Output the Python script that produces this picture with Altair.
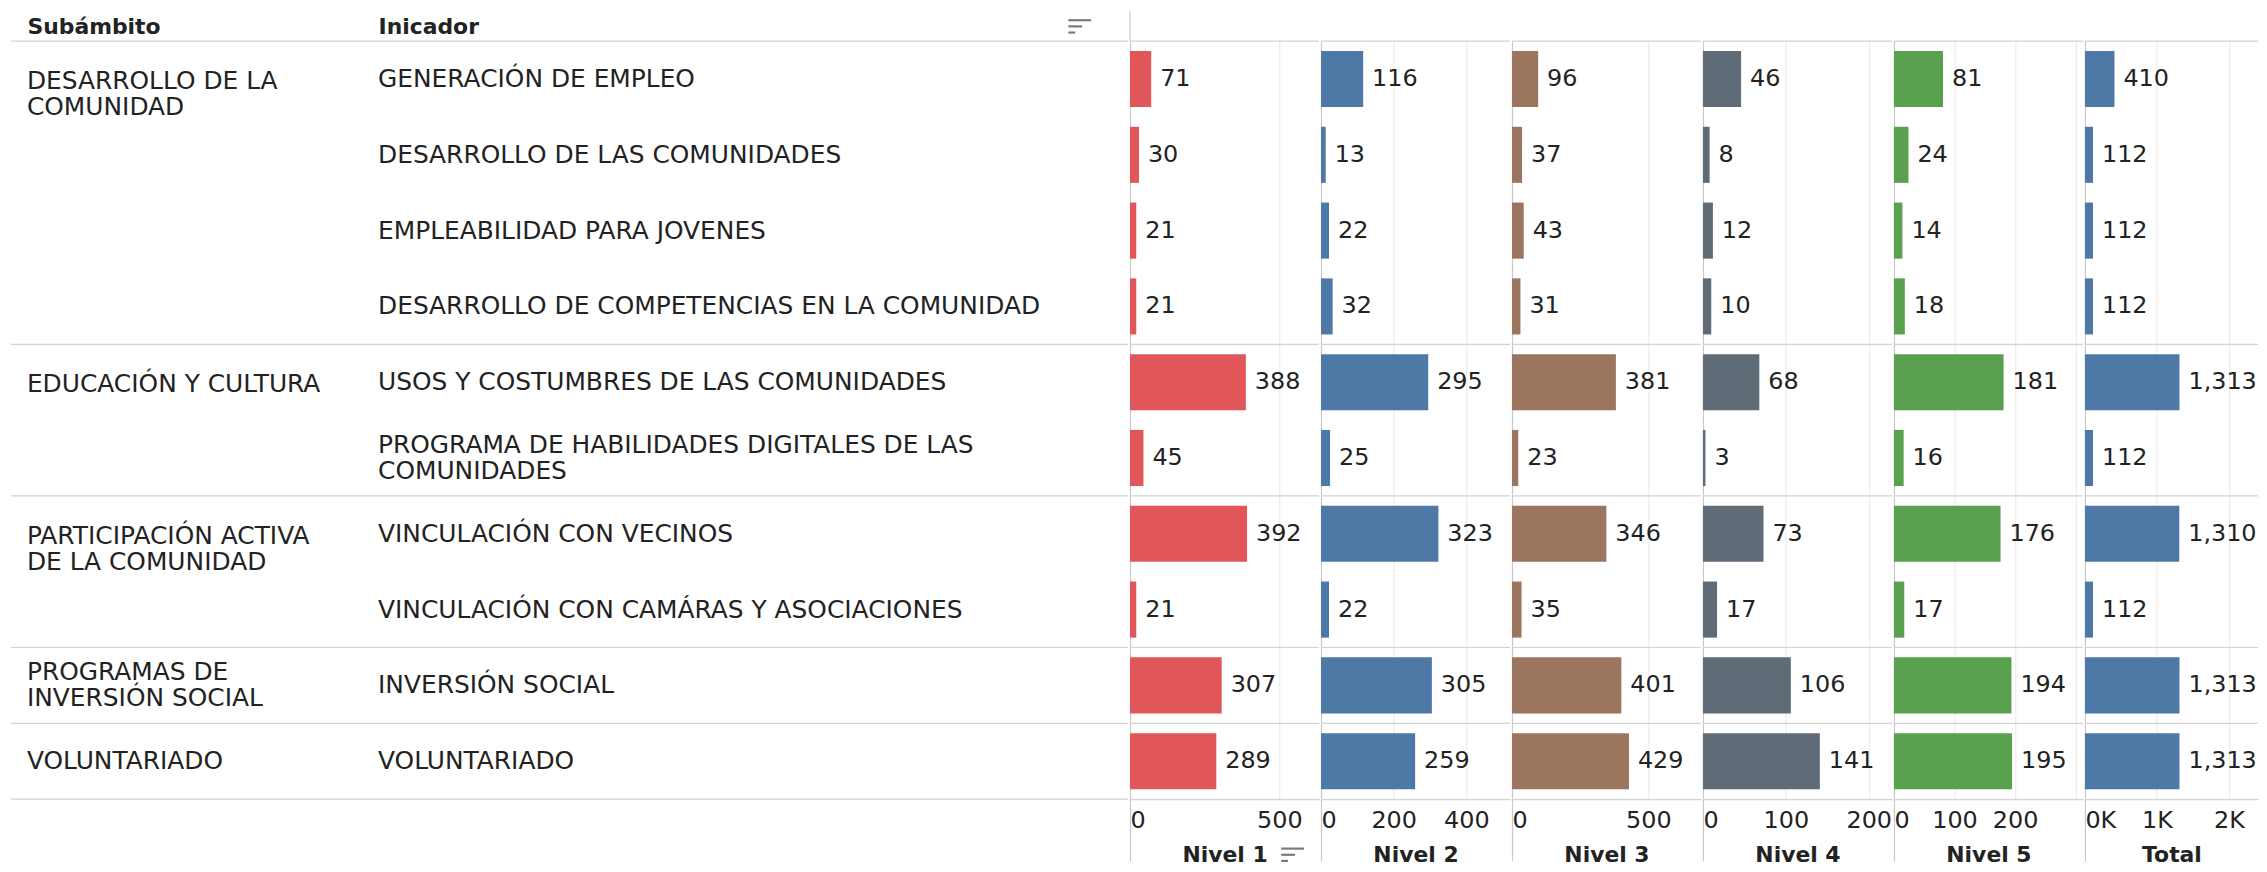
import altair as alt
import pandas as pd

# ---------------- data ----------------
subambito_per_row = [
    "DESARROLLO DE LA COMUNIDAD", "DESARROLLO DE LA COMUNIDAD",
    "DESARROLLO DE LA COMUNIDAD", "DESARROLLO DE LA COMUNIDAD",
    "EDUCACIÓN Y CULTURA", "EDUCACIÓN Y CULTURA",
    "PARTICIPACIÓN ACTIVA DE LA COMUNIDAD", "PARTICIPACIÓN ACTIVA DE LA COMUNIDAD",
    "PROGRAMAS DE INVERSIÓN SOCIAL",
    "VOLUNTARIADO",
]
subambito_names = [
    "DESARROLLO DE LA COMUNIDAD", "EDUCACIÓN Y CULTURA",
    "PARTICIPACIÓN ACTIVA DE LA COMUNIDAD", "PROGRAMAS DE INVERSIÓN SOCIAL",
    "VOLUNTARIADO",
]
subambito_display = [
    "DESARROLLO DE LA\nCOMUNIDAD", "EDUCACIÓN Y CULTURA",
    "PARTICIPACIÓN ACTIVA\nDE LA COMUNIDAD", "PROGRAMAS DE\nINVERSIÓN SOCIAL",
    "VOLUNTARIADO",
]
indicadores = [
    "GENERACIÓN DE EMPLEO",
    "DESARROLLO DE LAS COMUNIDADES",
    "EMPLEABILIDAD PARA JOVENES",
    "DESARROLLO DE COMPETENCIAS EN LA COMUNIDAD",
    "USOS Y COSTUMBRES DE LAS COMUNIDADES",
    "PROGRAMA DE HABILIDADES DIGITALES DE LAS COMUNIDADES",
    "VINCULACIÓN CON VECINOS",
    "VINCULACIÓN CON CAMÁRAS Y ASOCIACIONES",
    "INVERSIÓN SOCIAL",
    "VOLUNTARIADO",
]
indicador_display = [
    "GENERACIÓN DE EMPLEO",
    "DESARROLLO DE LAS COMUNIDADES",
    "EMPLEABILIDAD PARA JOVENES",
    "DESARROLLO DE COMPETENCIAS EN LA COMUNIDAD",
    "USOS Y COSTUMBRES DE LAS COMUNIDADES",
    "PROGRAMA DE HABILIDADES DIGITALES DE LAS\nCOMUNIDADES",
    "VINCULACIÓN CON VECINOS",
    "VINCULACIÓN CON CAMÁRAS Y ASOCIACIONES",
    "INVERSIÓN SOCIAL",
    "VOLUNTARIADO",
]
nivel1 = [71, 30, 21, 21, 388, 45, 392, 21, 307, 289]
nivel2 = [116, 13, 22, 32, 295, 25, 323, 22, 305, 259]
nivel3 = [96, 37, 43, 31, 381, 23, 346, 35, 401, 429]
nivel4 = [46, 8, 12, 10, 68, 3, 73, 17, 106, 141]
nivel5 = [81, 24, 14, 18, 181, 16, 176, 17, 194, 195]
total = [410, 112, 112, 112, 1313, 112, 1310, 112, 1313, 1313]

column_headers = ["Subámbito", "Inicador"]
panel_titles = ["Nivel 1", "Nivel 2", "Nivel 3", "Nivel 4", "Nivel 5", "Total"]
panel_colors = ["#E15759", "#4E79A7", "#9C755F", "#5F6B76", "#59A14F", "#4E79A7"]
panel_ticks = [[0, 500], [0, 200, 400], [0, 500], [0, 100, 200], [0, 100, 200, 300], [0, 1000, 2000]]
panel_domain_max = [633, 520, 693, 228, 312, 2403]
panel_widths = [190, 190, 190, 190, 190, 174]

# ---------------- tables ----------------
df = pd.DataFrame({
    "Subambito": subambito_per_row,
    "Indicador": indicadores,
    "ind_label": indicador_display,
    "Nivel 1": nivel1, "Nivel 2": nivel2, "Nivel 3": nivel3,
    "Nivel 4": nivel4, "Nivel 5": nivel5, "Total": total,
})
df["nlines"] = [s.count("\n") + 1 for s in indicador_display]
first_rows = []
for name, disp in zip(subambito_names, subambito_display):
    rows = [ind for ind, s in zip(indicadores, subambito_per_row) if s == name]
    first_rows.append({"Indicador": rows[0], "sub_label": disp, "n_rows": len(rows),
                       "nlines": disp.count("\n") + 1})
sub_df = pd.DataFrame(first_rows)
last_df = pd.DataFrame({"Indicador": [indicadores[-1]]})
# sort-icon strokes (relative lengths of the three strokes)
icon_df = pd.DataFrame({"bar": [0, 1, 2], "frac": [1.0, 0.6, 0.3]})

# ---------------- style ----------------
FONT = "DejaVu Sans"
TXT = "#222222"
BORDER = "#C9C9C9"
LINE = "#D2D2D2"
GRID = "#ECECEC"
ICON = "#7A7A7A"
FS = 24
FS_TBL = 25
LH = 26
ROWS_H = 762
HEAD_EXT = 30      # pane border above the rows (header row height)
TICK_EXT = 62      # pane border below the rows (footer)
TITLE_Y = 56

yscale = alt.Scale(domain=indicadores, paddingInner=0, paddingOuter=0)


def ypos(**kw):
    return alt.Y("Indicador:N", scale=yscale, axis=None, **kw)


def group_rules(extra_bottom=False):
    r = alt.Chart(sub_df).mark_rule(color=LINE, strokeWidth=1.2).encode(
        y=ypos(bandPosition=0))
    if extra_bottom:
        r = r + alt.Chart(last_df).mark_rule(color=LINE, strokeWidth=1.2).encode(
            y=ypos(bandPosition=1))
    return r


def sort_icon(x0, y0):
    """Small three-stroke sort glyph (decoration)."""
    layers = []
    for b, f in zip(icon_df["bar"], icon_df["frac"]):
        layers.append(
            alt.Chart(icon_df[icon_df["bar"] == b]).mark_rule(
                color=ICON, strokeWidth=2.2).encode(
                x=alt.value(x0), x2=alt.value(x0 + 23 * f), y=alt.value(y0 + 6.2 * b)))
    return layers


# ---------------- left table ----------------
tbl_x_scale = alt.Scale(type="point", domain=column_headers, range=[16, 369], padding=0)
tbl_axis = alt.Axis(orient="top", title=None, ticks=False, domain=False, grid=False,
                    labelAlign="left", labelBaseline="middle", labelPadding=15,
                    labelAngle=0, labelFont=FONT, labelFontSize=22,
                    labelFontWeight="bold", labelColor=TXT)


def txt(**kw):
    base = dict(align="left", font=FONT, fontSize=FS_TBL, color=TXT, lineBreak="\n", lineHeight=LH)
    base.update(kw)
    return base


ind_one = alt.Chart(df).transform_filter("datum.nlines == 1").transform_calculate(
    col="'Inicador'").mark_text(**txt(baseline="middle")).encode(
    x=alt.X("col:N", scale=tbl_x_scale, axis=tbl_axis), y=ypos(), text="ind_label:N")
ind_two = alt.Chart(df).transform_filter("datum.nlines == 2").transform_calculate(
    col="'Inicador'").mark_text(**txt(baseline="middle", dy=-LH / 2)).encode(
    x=alt.X("col:N", scale=tbl_x_scale), y=ypos(), text="ind_label:N")

sub_multi = alt.Chart(sub_df).transform_filter("datum.n_rows > 1").transform_calculate(
    col="'Subámbito'").mark_text(**txt(baseline="top", dy=-10)).encode(
    x=alt.X("col:N", scale=tbl_x_scale), y=ypos(), text="sub_label:N")
sub_single1 = alt.Chart(sub_df).transform_filter(
    "datum.n_rows == 1 && datum.nlines == 1").transform_calculate(
    col="'Subámbito'").mark_text(**txt(baseline="middle")).encode(
    x=alt.X("col:N", scale=tbl_x_scale), y=ypos(), text="sub_label:N")
sub_single2 = alt.Chart(sub_df).transform_filter(
    "datum.n_rows == 1 && datum.nlines == 2").transform_calculate(
    col="'Subámbito'").mark_text(**txt(baseline="middle", dy=-LH / 2)).encode(
    x=alt.X("col:N", scale=tbl_x_scale), y=ypos(), text="sub_label:N")

TABLE_W = 1123
table = alt.layer(group_rules(extra_bottom=True), ind_one, ind_two,
                  sub_multi, sub_single1, sub_single2,
                  *sort_icon(TABLE_W - 60, -21)).properties(width=TABLE_W, height=ROWS_H)


# ---------------- bar panels ----------------
def panel(i):
    field = panel_titles[i]
    xscale = alt.Scale(domain=[0, panel_domain_max[i]], nice=False, zero=True)
    label_expr = "datum.label"
    if field == "Nivel 5":
        label_expr = "datum.value == 300 ? '' : datum.label"
    if field == "Total":
        label_expr = "format(datum.value / 1000, 'd') + 'K'"
    axis = alt.Axis(
        values=panel_ticks[i], title=field, grid=True,
        gridColor={"condition": {"test": "datum.value === 0", "value": BORDER}, "value": GRID},
        gridWidth=1.2,
        ticks=True, tickSize=TICK_EXT, tickColor=BORDER, tickWidth=1.2,
        tickOpacity={"condition": {"test": "datum.value === 0", "value": 1}, "value": 0},
        labelPadding=10 - TICK_EXT, labelFlush=True, labelExpr=label_expr,
        labelFont=FONT, labelFontSize=FS, labelColor=TXT,
        domain=True, domainColor=LINE, domainWidth=1.2,
        titleFont=FONT, titleFontSize=22, titleFontWeight="bold", titleColor=TXT,
        titleY=TITLE_Y, titleBaseline="middle",
    )
    bars = alt.Chart(df).mark_bar(
        color=panel_colors[i], height=alt.RelativeBandSize(0.74)
    ).encode(
        x=alt.X(f"{field}:Q", scale=xscale, axis=axis),
        y=ypos(),
    )
    labels = alt.Chart(df).mark_text(
        align="left", baseline="middle", dx=9, font=FONT, fontSize=FS, color=TXT
    ).encode(
        x=alt.X(f"{field}:Q", scale=xscale),
        y=ypos(),
        text=alt.Text(f"{field}:Q", format=",d"),
    )
    layers = [group_rules(), bars, labels]
    if i == 0:
        # pane border continuing up through the header row
        layers.append(
            alt.Chart(last_df).mark_rule(color=BORDER, strokeWidth=1.2).encode(
                x=alt.datum(0), y=alt.value(-HEAD_EXT), y2=alt.value(0)))
        layers.extend(sort_icon(152, ROWS_H + TITLE_Y - 6.2))
    return alt.layer(*layers).properties(width=panel_widths[i], height=ROWS_H)


panels = [panel(i) for i in range(6)]

chart = alt.hconcat(table, *panels, spacing=0).properties(
    padding={"left": 2, "top": 0, "right": 0, "bottom": 0}
).configure_view(stroke=None).configure_concat(spacing=0)

chart.save("out.html", embed_options={"renderer": "svg", "actions": False})
